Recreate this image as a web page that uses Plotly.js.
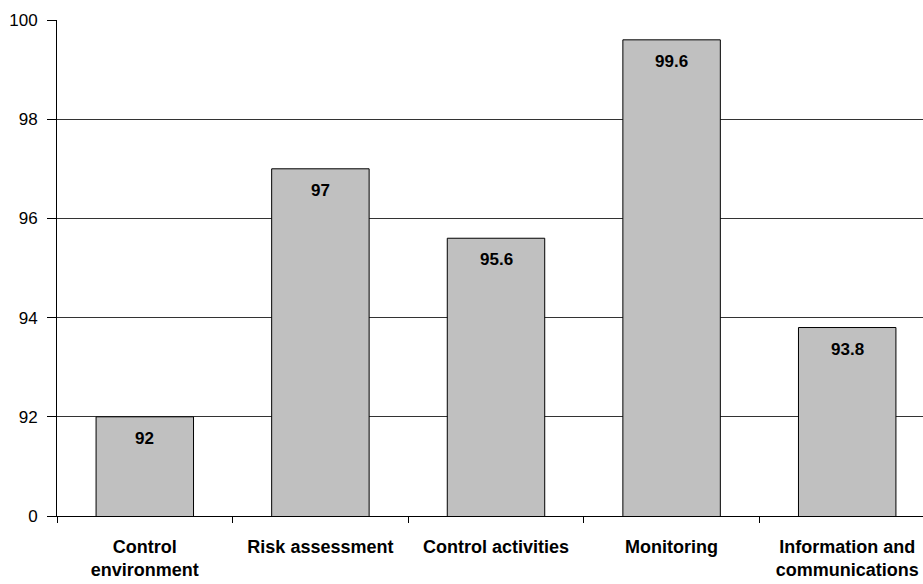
<!DOCTYPE html>
<html>
<head>
<meta charset="utf-8">
<script src="https://cdn.plot.ly/plotly-3.0.1.min.js"></script>
<style>html,body{margin:0;padding:0;overflow:hidden;background:#fff;}</style>
</head>
<body>
<div id="chart"></div>
<script>
const categories = ["Control<br>environment", "Risk assessment", "Control activities", "Monitoring", "Information and<br>communications"];
const values = [92, 97, 95.6, 99.6, 93.8];
const valueLabels = ["92", "97", "95.6", "99.6", "93.8"];
const yTickVals = [90, 92, 94, 96, 98, 100];
const yTickText = ["0", "92", "94", "96", "98", "100"];

const fontFam = '"Liberation Sans", Arial, sans-serif';

const annotations = categories.map((c, i) => ({
  x: c, y: values[i], xref: 'x', yref: 'y',
  text: '<b>' + valueLabels[i] + '</b>',
  showarrow: false, yanchor: 'top', yshift: -10,
  font: {family: fontFam, size: 17, color: '#000'}
}));

Plotly.newPlot('chart', [{
  type: 'bar',
  x: categories,
  y: values,
  marker: {color: '#c0c0c0', line: {color: '#000', width: 1}},
  width: 0.555,
  hoverinfo: 'none'
}], {
  width: 935,
  height: 584,
  margin: {l: 57, r: 0, t: 20, b: 68},
  paper_bgcolor: '#fff',
  plot_bgcolor: '#fff',
  showlegend: false,
  font: {family: fontFam, color: '#000'},
  annotations: annotations,
  xaxis: {
    type: 'category',
    tickson: 'boundaries',
    ticks: 'outside',
    ticklen: 6,
    tickcolor: '#000',
    showline: true,
    linecolor: '#000',
    linewidth: 1,
    showgrid: false,
    ticklabelstandoff: 14,
    tickfont: {family: fontFam, size: 18, color: '#000', weight: 'bold'}
  },
  yaxis: {
    range: [90, 100],
    tickvals: yTickVals,
    ticktext: yTickText,
    ticks: 'outside',
    ticklen: 9,
    tickcolor: '#000',
    showline: true,
    linecolor: '#000',
    linewidth: 1,
    showgrid: true,
    gridcolor: '#333',
    gridwidth: 1,
    zeroline: false,
    ticklabelstandoff: 6,
    tickfont: {family: fontFam, size: 17, color: '#000'}
  }
}, {displayModeBar: false, staticPlot: true});
</script>
</body>
</html>
